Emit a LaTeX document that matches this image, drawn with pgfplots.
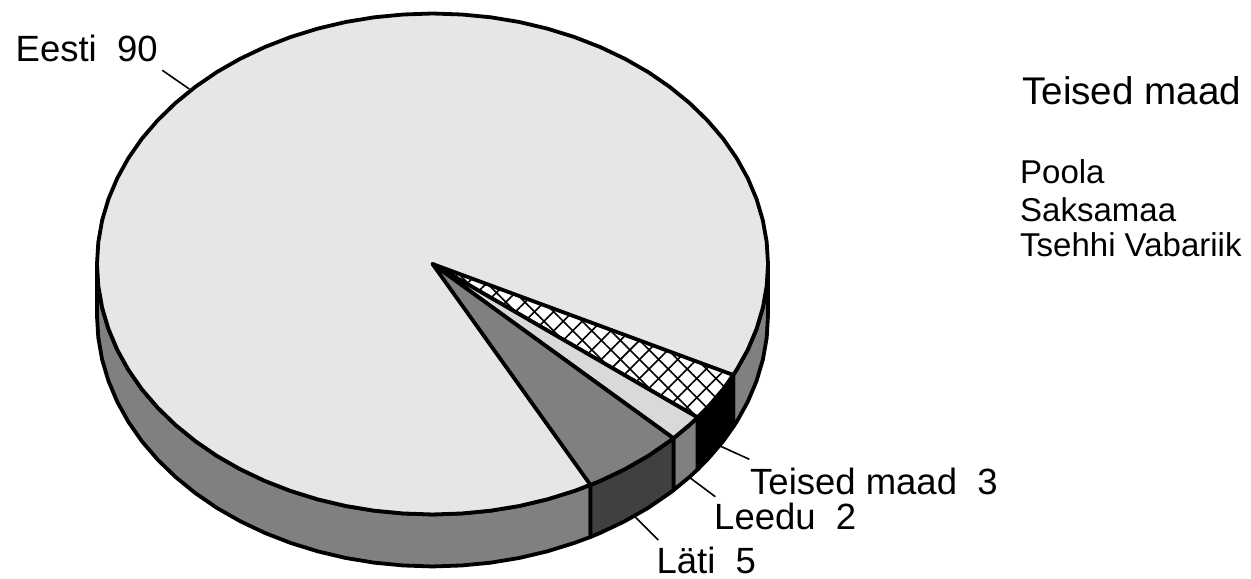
\documentclass[border=0pt]{standalone}
\usepackage{fontspec}
\setmainfont{Liberation Sans}
\usepackage{pgfplots}
\pgfplotsset{compat=1.18}
\usetikzlibrary{patterns.meta}
\definecolor{eesti}{HTML}{E6E6E6}
\definecolor{side}{HTML}{808080}
\definecolor{latid}{HTML}{404040}
\definecolor{leedu}{HTML}{D9D9D9}
\tikzset{
  edge/.style={draw=black,line width=3.8pt,line join=round},
  lbl/.style={anchor=base west,inner sep=0pt,font=\fontsize{36.5}{43}\selectfont},
  lbt/.style={anchor=base west,inner sep=0pt,font=\fontsize{38.6}{45}\selectfont},
  lbs/.style={anchor=base west,inner sep=0pt,font=\fontsize{33}{38}\selectfont},
  lead/.style={draw=black,line width=1.6pt},
}
\begin{document}
\begin{tikzpicture}
\begin{axis}[
  width=1251pt,height=579pt,scale only axis,
  xmin=-432.5,xmax=818.5,ymin=-315,ymax=264,
  axis lines=none,clip=false,
]
\path (axis cs:-432.5,-315) rectangle (axis cs:818.5,264);
% side, Eesti left part
\addplot[edge,fill=side] coordinates {
(158,-221)(141.8,-227)(114.7,-235.4)(86.8,-242)(58.3,-246.7)(29.2,-249.5)(0,-250.5)
(-29.2,-249.5)(-58.3,-246.7)(-86.8,-242)(-114.7,-235.4)(-141.8,-227)(-167.8,-216.9)
(-192.4,-205.2)(-215.7,-191.9)(-237.2,-177.1)(-257,-161)(-274.8,-143.7)(-290.6,-125.3)
(-304.1,-105.9)(-315.3,-85.7)(-324.1,-64.8)(-330.4,-43.5)(-334.2,-21.8)(-335.5,0)
(-335.5,-52)(-334.2,-73.8)(-330.4,-95.5)(-324.1,-116.8)(-315.3,-137.7)(-304.1,-157.9)
(-290.6,-177.3)(-274.8,-195.7)(-257,-213)(-237.2,-229.1)(-215.7,-243.9)(-192.4,-257.2)
(-167.8,-268.9)(-141.8,-279)(-114.7,-287.4)(-86.8,-294)(-58.3,-298.7)(-29.2,-301.5)
(0,-302.5)(29.2,-301.5)(58.3,-298.7)(86.8,-294)(114.7,-287.4)(141.8,-279)(158,-273)
} --cycle;
% side, Eesti right part
\addplot[edge,fill=side] coordinates {
(335.5,0)(334.2,-21.8)(330.4,-43.5)(324.1,-64.8)(315.3,-85.7)(304.1,-105.9)(300.7,-111)
(300.7,-163)(304.1,-157.9)(315.3,-137.7)(324.1,-116.8)(330.4,-95.5)(334.2,-73.8)(335.5,-52)
} --cycle;
% side, Teised maad
\addplot[edge,fill=black] coordinates {
(300.7,-111)(290.6,-125.3)(274.8,-143.7)(265.1,-153.5)
(265.1,-205.5)(274.8,-195.7)(290.6,-177.3)(300.7,-163)
} --cycle;
% side, Leedu
\addplot[edge,fill=side] coordinates {
(265.1,-153.5)(257,-161)(240.9,-174.3)
(240.9,-226.3)(257,-213)(265.1,-205.5)
} --cycle;
% side, Läti
\addplot[edge,fill=latid] coordinates {
(240.9,-174.3)(237.2,-177.1)(215.7,-191.9)(192.4,-205.2)(167.8,-216.9)(158,-221)
(158,-273)(167.8,-268.9)(192.4,-257.2)(215.7,-243.9)(237.2,-229.1)(240.9,-226.3)
} --cycle;
% top face, Eesti
\addplot[edge,fill=eesti] coordinates {
(335.5,0)(334.2,21.8)(330.4,43.5)(324.1,64.8)(315.3,85.7)(304.1,105.9)(290.6,125.3)
(274.8,143.7)(257,161)(237.2,177.1)(215.7,191.9)(192.4,205.2)(167.8,216.9)(141.8,227)
(114.7,235.4)(86.8,242)(58.3,246.7)(29.2,249.5)(0,250.5)
(-29.2,249.5)(-58.3,246.7)(-86.8,242)(-114.7,235.4)(-141.8,227)(-167.8,216.9)(-192.4,205.2)
(-215.7,191.9)(-237.2,177.1)(-257,161)(-274.8,143.7)(-290.6,125.3)(-304.1,105.9)
(-315.3,85.7)(-324.1,64.8)(-330.4,43.5)(-334.2,21.8)(-335.5,0)
(-334.2,-21.8)(-330.4,-43.5)(-324.1,-64.8)(-315.3,-85.7)(-304.1,-105.9)(-290.6,-125.3)
(-274.8,-143.7)(-257,-161)(-237.2,-177.1)(-215.7,-191.9)(-192.4,-205.2)(-167.8,-216.9)
(-141.8,-227)(-114.7,-235.4)(-86.8,-242)(-58.3,-246.7)(-29.2,-249.5)(0,-250.5)
(29.2,-249.5)(58.3,-246.7)(86.8,-242)(114.7,-235.4)(141.8,-227)(167.8,-216.9)(192.4,-205.2)
(215.7,-191.9)(237.2,-177.1)(257,-161)(274.8,-143.7)(290.6,-125.3)(304.1,-105.9)
(315.3,-85.7)(324.1,-64.8)(330.4,-43.5)(334.2,-21.8)
} --cycle;
% top face, Teised maad (hatched)
\addplot[draw=none,fill=white] coordinates {(0,0)(265.1,-153.5)(274.8,-143.7)(290.6,-125.3)(300.7,-111)} --cycle;
\addplot[draw=none,pattern={Lines[angle=45,distance=13.5pt,line width=1.6pt]},pattern color=black] coordinates {(0,0)(265.1,-153.5)(274.8,-143.7)(290.6,-125.3)(300.7,-111)} --cycle;
\addplot[draw=none,pattern={Lines[angle=-45,distance=13.5pt,line width=1.6pt]},pattern color=black] coordinates {(0,0)(265.1,-153.5)(274.8,-143.7)(290.6,-125.3)(300.7,-111)} --cycle;
\addplot[edge] coordinates {(0,0)(265.1,-153.5)(274.8,-143.7)(290.6,-125.3)(300.7,-111)} --cycle;
% top face, Leedu
\addplot[edge,fill=leedu] coordinates {(0,0)(240.9,-174.3)(257,-161)(265.1,-153.5)} --cycle;
% top face, Läti
\addplot[edge,fill=side] coordinates {(0,0)(158,-221)(167.8,-216.9)(192.4,-205.2)(215.7,-191.9)(237.2,-177.1)(240.9,-174.3)} --cycle;
% leader lines
\addplot[lead] coordinates {(-270.2,193.7)(-243.2,175)};
\addplot[lead] coordinates {(287.5,-182)(316.8,-195.3)};
\addplot[lead] coordinates {(256.8,-213.3)(282.8,-232.7)};
\addplot[lead] coordinates {(202.5,-252.7)(225.8,-276)};
% labels
\node[lbl] at (axis cs:-417,202.3) {Eesti\ \ 90};
\node[lbl] at (axis cs:317.5,-230.3) {Teised maad\ \ 3};
\node[lbl] at (axis cs:281.5,-265.3) {Leedu\ \ 2};
\node[lbl] at (axis cs:223.9,-309.3) {Läti\ \ 5};
\node[lbt] at (axis cs:589.5,159.3) {Teised maad};
\node[lbs] at (axis cs:587.5,80.3) {Poola};
\node[lbs] at (axis cs:587.5,42) {Saksamaa};
\node[lbs] at (axis cs:587.5,7) {Tsehhi Vabariik};
\end{axis}
\end{tikzpicture}
\end{document}
